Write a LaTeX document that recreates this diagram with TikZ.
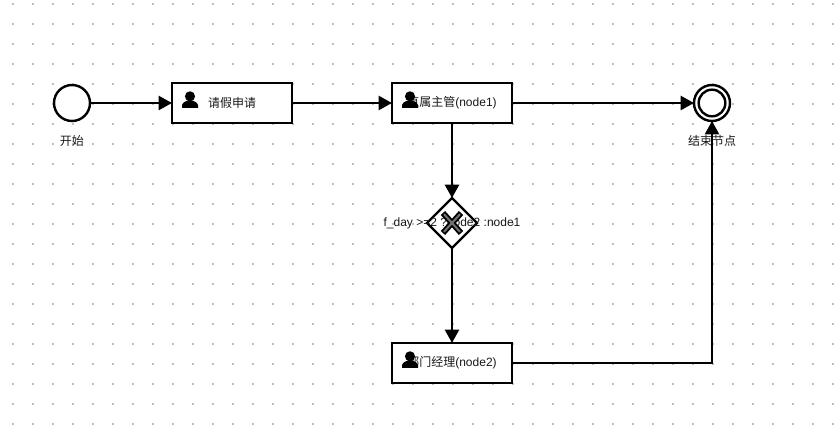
\documentclass[tikz,border=0pt]{standalone}
\usepackage{fontspec}
\setmainfont{Liberation Sans}
\newfontfamily\cjk{Noto Sans CJK SC}
\usetikzlibrary{arrows.meta,positioning,shapes.geometric,calc}
\tikzset{
    tarefa/.style={
        rectangle,
        draw,
        line width=1.8pt,
        fill=white,
        outer sep=0pt,
        minimum width=90pt,
        minimum height=30pt
    },
    evento/.style={
        circle,
        draw,
        line width=1.8pt,
        fill=white,
        outer sep=0pt,
        minimum size=27pt
    },
    gateway/.style={
        diamond,
        draw,
        line width=1.8pt,
        fill=white,
        outer sep=0pt,
        minimum width=37.5pt,
        minimum height=37.5pt,
        inner sep=0pt
    },
    fluxo/.style={-{Triangle[length=10pt,width=10.5pt]}, line width=1.8pt},
    rotulo/.style={font=\fontsize{9pt}{11pt}\selectfont, text=black!90},
    ponto/.style={fill=black!25}
}
% person icon
\newcommand{\usericon}[1]{
    \fill ($(#1)+(0pt,3pt)$) circle (3.8pt);
    \fill ($(#1)+(-6pt,-5.7pt)$) -- ($(#1)+(-6pt,-3.5pt)$)
        .. controls ($(#1)+(-4.5pt,1pt)$) and ($(#1)+(4.5pt,1pt)$) .. ($(#1)+(6pt,-3.5pt)$)
        -- ($(#1)+(6pt,-5.7pt)$) -- cycle;
}
\begin{document}
\begin{tikzpicture}[x=0.75pt, y=-0.75pt, node distance=60pt]
    \useasboundingbox (0,0) rectangle (840,435);
    \fill[white] (0,0) rectangle (840,435);
    % background grid
    \foreach \i in {0,...,41}
        \foreach \j in {0,...,21}
            \fill[ponto] (12+20*\i,3+20*\j) rectangle ++(2,2);

    \node[evento] (inicio) at (72,103) {};
    \node[tarefa, right=61.5pt of inicio] (pedido) {};
    \node[tarefa, right=75pt of pedido] (chefe) {};
    \node[gateway, below=56.25pt of chefe] (decisao) {};
    \node[tarefa, below=71.25pt of decisao] (gerente) {};
    \node[evento, at={(712,103)}] (fim) {};
    \node[circle, draw, line width=1.8pt, minimum size=20pt, at={(fim)}] (fimint) {};

    \node[rotulo, below=7.5pt of inicio] (inicioTexto) {\cjk 开始};
    \node[rotulo, at={(pedido)}] (pedidoTexto) {\cjk 请假申请};
    \node[rotulo, at={(chefe)}] (chefeTexto) {{\cjk 直属主管}(node1)};
    \node[rotulo, at={(gerente)}] (gerenteTexto) {{\cjk 部门经理}(node2)};
    \node[rotulo, below=7.5pt of fim] (fimTexto) {\cjk 结束节点};
    \node[rotulo, at={(decisao)}] (decisaoTexto) {f\_day >=2 ?node2 :node1};

    \coordinate (iconePedido) at ($(pedido.west)+(13.5pt,2pt)$);
    \coordinate (iconeChefe) at ($(chefe.west)+(13.5pt,2pt)$);
    \coordinate (iconeGerente) at ($(gerente.west)+(13.5pt,2pt)$);
    \usericon{iconePedido}
    \usericon{iconeChefe}
    \usericon{iconeGerente}

    \draw[line width=4.4pt] ($(decisao)+(-6.8pt,-7.5pt)$) -- ($(decisao)+(6.8pt,7.5pt)$);
    \draw[line width=4.4pt] ($(decisao)+(-6.8pt,7.5pt)$) -- ($(decisao)+(6.8pt,-7.5pt)$);
    \draw[line width=1.5pt, black!55] ($(decisao)+(-6pt,-6.6pt)$) -- ($(decisao)+(6pt,6.6pt)$);
    \draw[line width=1.5pt, black!55] ($(decisao)+(-6pt,6.6pt)$) -- ($(decisao)+(6pt,-6.6pt)$);

    \draw[fluxo] (inicio) -- (pedido);
    \draw[fluxo] (pedido) -- (chefe);
    \draw[fluxo] (chefe) -- (fim);
    \draw[fluxo] (chefe) -- (decisao);
    \draw[fluxo] (decisao) -- (gerente);
    \draw[fluxo] (gerente) -| (fim);
\end{tikzpicture}
\end{document}
